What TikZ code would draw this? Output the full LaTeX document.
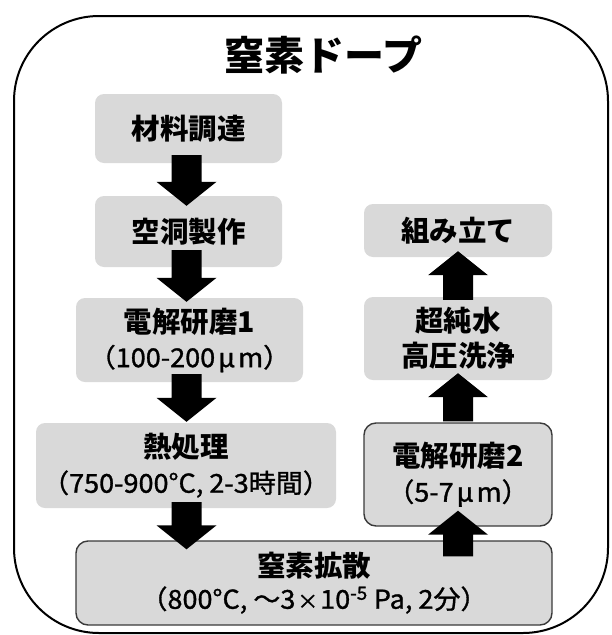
\documentclass[tikz,border=0pt]{standalone}
\usepackage{fontspec}
\setmainfont{Noto Sans CJK JP}
\newfontfamily\jpmid{Noto Sans CJK JP}[FakeBold=1.2, FakeStretch=1.04]
\usetikzlibrary{calc}
\definecolor{boxgray}{HTML}{D9D9D9}
\definecolor{edgegray}{HTML}{3A3A3A}
\newcommand\Lone{\fontsize{28.5}{35}\selectfont\bfseries}
\newcommand\Ltwo{\jpmid\fontsize{26}{35}\selectfont}
\newcommand\mum{\hspace{3pt}μ\hspace{3pt}m}
\newcommand\fatarrow[2]{\fill[black] let \p1=(#1), \p2=(#2), \n1={sign(\y2-\y1)} in
  (\x1-15pt,\y1) -- (\x1-15pt,\y2-\n1*24pt) -- (\x1-30pt,\y2-\n1*24pt) -- (\x1,\y2)
  -- (\x1+30pt,\y2-\n1*24pt) -- (\x1+15pt,\y2-\n1*24pt) -- (\x1+15pt,\y1) -- cycle;}
\begin{document}
\begin{tikzpicture}[x=1pt,y=-1pt,
  box/.style={fill=boxgray, rounded corners=9pt, inner sep=0pt, align=center,
    font=\fontsize{23}{35}\selectfont},
  edged/.style={box, draw=edgegray, line width=1.4pt, rounded corners=12pt}]
\useasboundingbox (0,0) rectangle (611,635);
\draw[line width=2pt, rounded corners=85pt] (14,16) rectangle (608,633);
\node[font=\fontsize{40}{48}\selectfont\bfseries] (title) at (323.5,55) {窒素ドープ};
\node[box, minimum width=187pt, minimum height=69pt] (b1) at (188.5,128.5) {{\Lone 材料調達}};
\node[box, minimum width=187pt, minimum height=71pt] (b2) at (188.5,231.5) {{\Lone 空洞製作}};
\node[box, minimum width=227pt, minimum height=84pt] (b3) at (189.5,340) {{\Lone 電解研磨1}\\{\Ltwo （100-200\mum）}};
\node[box, minimum width=300pt, minimum height=85pt] (b4) at (186,465.5) {{\Lone 熱処理}\\{\Ltwo （750-900°C, 2-3時間）}};
\node[edged, minimum width=476pt, minimum height=84pt, font=\fontsize{23}{32}\selectfont] (b5) at (314,583) {{\Lone 窒素拡散}\\{\Ltwo （800°C, ～3\hspace{2pt}{\fontsize{20}{20}\selectfont ×}\hspace{2pt}10\textsuperscript{-5} Pa, 2分）}};
\node[box, minimum width=188pt, minimum height=53pt] (k) at (458,230.5) {{\Lone 組み立て}};
\node[box, minimum width=188pt, minimum height=83pt] (w) at (458,338.5) {{\Lone 超純水}\\{\Lone 高圧洗浄}};
\node[edged, minimum width=188pt, minimum height=103pt] (e2) at (458,474.5) {{\Lone 電解研磨2}\\{\Ltwo （5-7\mum）}};
\fatarrow{$(b1.south)+(-2,-8)$}{$(b2.north)+(-2,10)$}
\fatarrow{$(b2.south)+(-2,-17)$}{$(b3.north)+(-3,4)$}
\fatarrow{$(b3.south)+(-3,-8)$}{$(b4.north)+(0.5,-1)$}
\fatarrow{$(b4.south)+(0.5,-6)$}{$(b5.north -| b4.south)+(0.5,9)$}
\fatarrow{$(b5.north -| e2.south)+(0,16)$}{$(e2.south)+(0,-16)$}
\fatarrow{$(e2.north)+(0,-1)$}{$(w.south)+(0,-7)$}
\fatarrow{$(w.north)+(0,3)$}{$(k.south)+(0,-6)$}
\end{tikzpicture}
\end{document}
